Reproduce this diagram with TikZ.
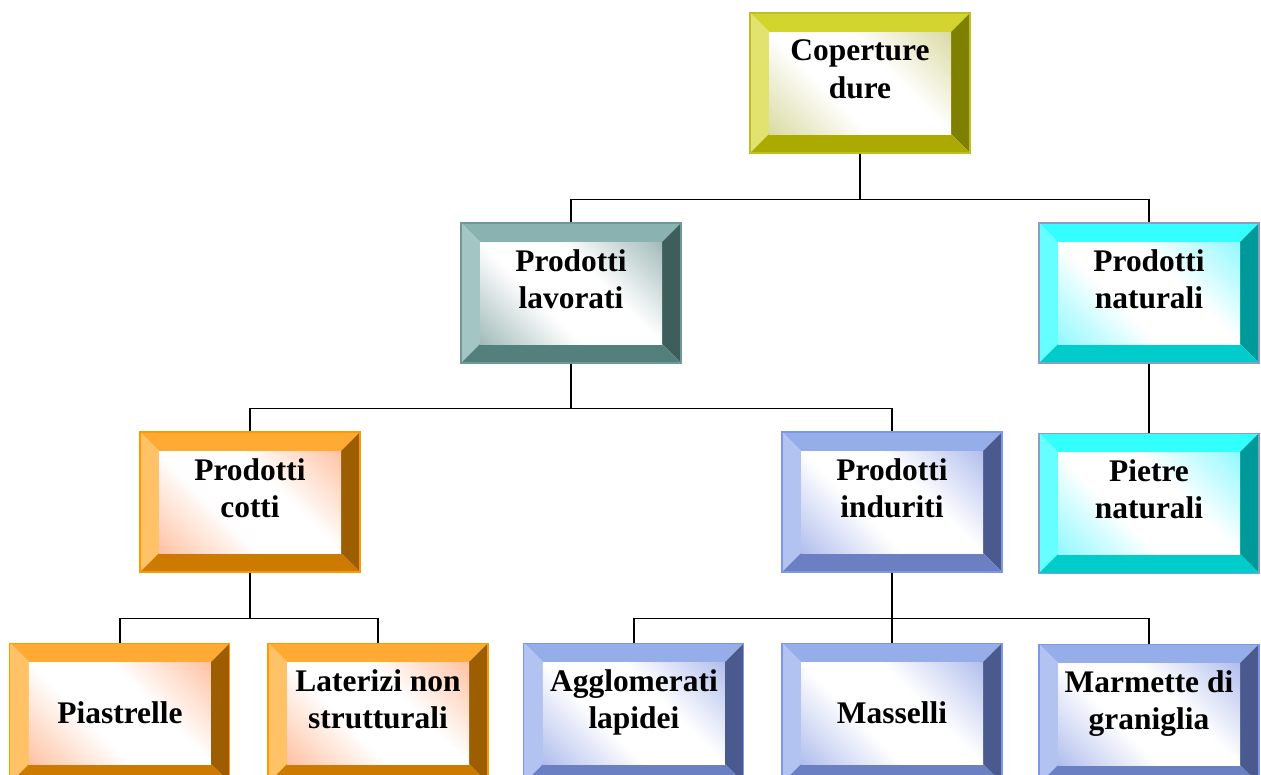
\documentclass[tikz,border=0pt]{standalone}
\usepackage{fontspec}
\setmainfont{Liberation Serif}
\usetikzlibrary{positioning, calc}

% bevel colours: top, left, right, bottom, inner tint, outline
\definecolor{ylwtop}{HTML}{D4D42E}
\definecolor{ylwleft}{HTML}{E2E26E}
\definecolor{ylwright}{HTML}{7F7F00}
\definecolor{ylwbot}{HTML}{AAAA00}
\definecolor{ylwtint}{HTML}{C0C060}
\definecolor{ylwline}{HTML}{BFBF20}

\definecolor{slatetop}{HTML}{8AB2B0}
\definecolor{slateleft}{HTML}{A3C5C3}
\definecolor{slateright}{HTML}{3E5E5C}
\definecolor{slatebot}{HTML}{537F7D}
\definecolor{slatetint}{HTML}{5F8A88}
\definecolor{slateline}{HTML}{6F9997}

\definecolor{aquatop}{HTML}{33FFFF}
\definecolor{aqualeft}{HTML}{66FFFF}
\definecolor{aquaright}{HTML}{009999}
\definecolor{aquabot}{HTML}{00CCCC}
\definecolor{aquatint}{HTML}{40F4FF}
\definecolor{aqualine}{HTML}{8C9CC8}

\definecolor{orngtop}{HTML}{FFAA33}
\definecolor{orngleft}{HTML}{FFC266}
\definecolor{orngright}{HTML}{9C5E00}
\definecolor{orngbot}{HTML}{CC7A00}
\definecolor{orngtint}{HTML}{FF9660}
\definecolor{orngline}{HTML}{FF9900}

\definecolor{blutop}{HTML}{95AEEA}
\definecolor{bluleft}{HTML}{B2C3F2}
\definecolor{bluright}{HTML}{4A5A8E}
\definecolor{blubot}{HTML}{6A80C2}
\definecolor{blutint}{HTML}{7A90E0}
\definecolor{bluline}{HTML}{7E96E6}

% inner glow: tinted corners fading into a white band
\colorlet{glowc}{white}
\pgfdeclareverticalshading[glowc]{glow}{100bp}{%
  color(0bp)=(glowc); color(18bp)=(glowc!50!white); color(40bp)=(white);
  color(60bp)=(white); color(82bp)=(glowc!50!white); color(100bp)=(glowc)}

\newcommand{\bw}{0.38}

\begin{document}
\begin{tikzpicture}[
    font=\fontsize{17.9}{21.5}\selectfont\bfseries,
    bevel/.style = {
        rectangle, minimum width=4.4cm, minimum height=2.8cm,
        inner sep=0pt, align=center,
        path picture={
            \coordinate (bnw) at (path picture bounding box.north west);
            \coordinate (bse) at (path picture bounding box.south east);
            \coordinate (bne) at (bse|-bnw);
            \coordinate (bsw) at (bnw|-bse);
            \coordinate (inw) at ($(bnw)+(\bw,-\bw)$);
            \coordinate (ine) at ($(bne)+(-\bw,-\bw)$);
            \coordinate (ise) at ($(bse)+(-\bw,\bw)$);
            \coordinate (isw) at ($(bsw)+(\bw,\bw)$);
            \fill[#1top] (bnw) -- (bne) -- (ine) -- (inw) -- cycle;
            \fill[#1left] (bnw) -- (inw) -- (isw) -- (bsw) -- cycle;
            \fill[#1right] (bne) -- (bse) -- (ise) -- (ine) -- cycle;
            \fill[#1bot] (bsw) -- (isw) -- (ise) -- (bse) -- cycle;
            \colorlet{glowc}{#1tint}
            \shade[shading=glow, shading angle=-45] (inw) rectangle (ise);
        },
        draw=#1line, line width=0.6pt
    },
    twoline/.style = {text depth=0.56cm},
    link/.style = {draw=black, line width=1.1pt}
]
\useasboundingbox (0,0) rectangle (25.22,-15.5);

% ---- top ----
\node[bevel=ylw, twoline] (cop) at (17.2,-1.66) {Coperture\\dure};

% ---- second row ----
\node[bevel=slate, twoline] (lav) at (11.42,-5.86) {Prodotti\\lavorati};
\node[bevel=aqua, twoline] (nat) at (22.98,-5.86) {Prodotti\\naturali};

% ---- third row ----
\node[bevel=orng, twoline] (cot) at (5.0,-10.04) {Prodotti\\cotti};
\node[bevel=blu, twoline] (ind) at (17.84,-10.04) {Prodotti\\induriti};
\node[bevel=aqua, twoline, below=1.38cm of nat] (pie) {Pietre\\naturali};

% ---- bottom row ----
\node[bevel=orng, twoline, below=1.4cm of cot, xshift=2.56cm] (lat) {Laterizi non\\strutturali};
\node[bevel=orng, left=0.74cm of lat] (pia) {Piastrelle};
\node[bevel=blu, below=1.4cm of ind] (mas) {Masselli};
\node[bevel=blu, twoline, left=0.74cm of mas] (agg) {Agglomerati\\lapidei};
\node[bevel=blu, twoline, below=1.4cm of pie] (mar) {Marmette di\\graniglia};

% ---- links ----
\draw[link] (cop.south) -- ++(0,-0.92) -| (lav.north);
\draw[link] (cop.south) -- ++(0,-0.92) -| (nat.north);
\draw[link] (lav.south) -- ++(0,-0.9) -| (cot.north);
\draw[link] (lav.south) -- ++(0,-0.9) -| (ind.north);
\draw[link] (nat) -- (pie);
\draw[link] (cot.south) -- ++(0,-0.92) -| (pia.north);
\draw[link] (cot.south) -- ++(0,-0.92) -| (lat.north);
\draw[link] (ind.south) -- ++(0,-0.92) -| (agg.north);
\draw[link] (ind.south) -- ++(0,-0.92) -| (mas.north);
\draw[link] (ind.south) -- ++(0,-0.92) -| (mar.north);

\end{tikzpicture}
\end{document}
